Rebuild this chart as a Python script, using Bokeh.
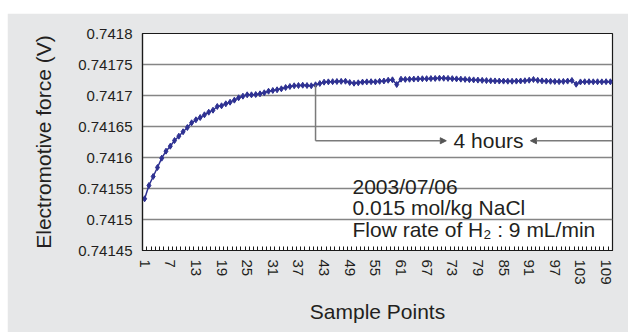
from bokeh.plotting import figure
from bokeh.models import FixedTicker, Label, Arrow, NormalHead, Range1d, Spacer
from bokeh.layouts import column, row
from bokeh.embed import file_html
from bokeh.resources import INLINE

# ---------------- data ----------------
sample_index = list(range(1, 111))
emf_values = [
    0.7415334, 0.7415548, 0.7415694, 0.7415839, 0.7415989, 0.7416102, 0.7416182, 0.7416274, 0.7416344, 0.7416415,
    0.7416484, 0.7416560, 0.7416608, 0.7416645, 0.7416689, 0.7416731, 0.7416763, 0.7416823, 0.7416834, 0.7416866,
    0.7416892, 0.7416925, 0.7416963, 0.7416989, 0.7417011, 0.7417011, 0.7417016, 0.7417027, 0.7417044, 0.7417069,
    0.7417081, 0.7417092, 0.7417108, 0.7417129, 0.7417145, 0.7417157, 0.7417161, 0.7417166, 0.7417161, 0.7417157,
    0.7417173, 0.7417194, 0.7417215, 0.7417220, 0.7417223, 0.7417226, 0.7417228, 0.7417230, 0.7417210, 0.7417198,
    0.7417205, 0.7417216, 0.7417220, 0.7417223, 0.7417220, 0.7417229, 0.7417234, 0.7417246, 0.7417253, 0.7417177,
    0.7417263, 0.7417260, 0.7417262, 0.7417265, 0.7417268, 0.7417270, 0.7417271, 0.7417273, 0.7417275, 0.7417279,
    0.7417278, 0.7417276, 0.7417272, 0.7417268, 0.7417264, 0.7417260, 0.7417256, 0.7417252, 0.7417248, 0.7417244,
    0.7417240, 0.7417237, 0.7417235, 0.7417233, 0.7417232, 0.7417231, 0.7417230, 0.7417232, 0.7417234, 0.7417238,
    0.7417246, 0.7417258, 0.7417244, 0.7417236, 0.7417232, 0.7417229, 0.7417226, 0.7417224, 0.7417227, 0.7417232,
    0.7417242, 0.7417182, 0.7417219, 0.7417222, 0.7417223, 0.7417221, 0.7417222, 0.7417220, 0.7417223, 0.7417221,
]
x_tick_positions = [1, 7, 13, 19, 25, 31, 37, 43, 49, 55, 61, 67, 73, 79, 85, 91, 97, 103, 109]
x_tick_labels = ["1", "7", "13", "19", "25", "31", "37", "43", "49", "55", "61", "67", "73", "79", "85",
                 "91", "97", "103", "109"]
y_tick_values = [0.74145, 0.7415, 0.74155, 0.7416, 0.74165, 0.7417, 0.74175, 0.7418]
y_tick_labels = ["0.74145", "0.7415", "0.74155", "0.7416", "0.74165", "0.7417", "0.74175", "0.7418"]
x_title = "Sample Points"
y_title = "Electromotive force (V)"
hours_text = "4 hours"
info_lines = ["2003/07/06", "0.015 mol/kg NaCl", "Flow rate of H\u2082 : 9 mL/min"]
marker_sample = 41  # sample where the "4 hours" span starts

# ---------------- annotation layout (data units) ----------------
HOURS_Y = 0.741627
HOURS_LEFT_HEAD = 71.6
HOURS_RIGHT_HEAD = 91.3
HOURS_TEXT_X = 81.5
INFO_X = 49.65
INFO_Y = [0.7415532, 0.7415198, 0.7414839]

FONT = "Liberation Sans"
TXT = "#231f20"
BG = "#e6e7e8"
GRID = "#858585"
BLUE = "#2e3192"

cat_bounds = [i - 0.5 for i in sample_index] + [sample_index[-1] + 0.5]

p = figure(
    frame_width=470, frame_height=217,
    x_range=Range1d(0.5, 110.5), y_range=Range1d(y_tick_values[0], y_tick_values[-1]),
    output_backend="svg", toolbar_location=None,
    min_border_left=135, min_border_right=16, min_border_top=20, min_border_bottom=82,
)
p.border_fill_color = BG
p.background_fill_color = "white"
p.outline_line_color = "#1a1a1a"
p.outline_line_width = 1.2

p.xgrid.visible = False
p.ygrid.ticker = FixedTicker(ticks=y_tick_values)
p.ygrid.grid_line_color = GRID
p.ygrid.grid_line_width = 1.6

# y axis
ya = p.yaxis[0]
ya.ticker = FixedTicker(ticks=y_tick_values)
ya.major_label_overrides = {v: s for v, s in zip(y_tick_values, y_tick_labels)}
ya.major_tick_in = 0
ya.major_tick_out = 0
ya.minor_tick_in = 0
ya.minor_tick_out = 0
ya.major_label_standoff = 10
ya.major_label_text_font = FONT
ya.major_label_text_font_size = "15px"
ya.major_label_text_color = TXT
ya.axis_line_color = "#1a1a1a"
ya.axis_line_width = 1.2
ya.axis_label = y_title
ya.axis_label_text_font = FONT
ya.axis_label_text_font_size = "21px"
ya.axis_label_text_font_style = "normal"
ya.axis_label_text_color = TXT
ya.axis_label_standoff = 20

# x axis
xa = p.xaxis[0]
xa.ticker = FixedTicker(ticks=x_tick_positions, minor_ticks=cat_bounds)
xa.major_label_overrides = {v: s for v, s in zip(x_tick_positions, x_tick_labels)}
xa.major_label_orientation = "vertical"
xa.major_tick_in = 0
xa.major_tick_out = 0
xa.minor_tick_in = 4
xa.minor_tick_out = 0
xa.minor_tick_line_color = "#1a1a1a"
xa.major_label_standoff = 9
xa.major_label_text_font = FONT
xa.major_label_text_font_size = "15px"
xa.major_label_text_color = TXT
xa.axis_line_color = "#1a1a1a"
xa.axis_line_width = 1.2
xa.axis_label = x_title
xa.axis_label_text_font = FONT
xa.axis_label_text_font_size = "21px"
xa.axis_label_text_font_style = "normal"
xa.axis_label_text_color = TXT
xa.axis_label_standoff = 12

# series
p.line(sample_index, emf_values, line_color=BLUE, line_width=1.5)
p.scatter(sample_index, emf_values, marker="diamond", size=6, fill_color=BLUE, line_color=BLUE)

# "4 hours" annotation
start_val = emf_values[sample_index.index(marker_sample)]
p.segment(x0=[marker_sample], y0=[start_val], x1=[marker_sample], y1=[HOURS_Y],
          line_color="#7a7a7a", line_width=1.5)
p.add_layout(Arrow(end=NormalHead(size=6, fill_color="#555555", line_color="#555555"),
                   x_start=marker_sample, y_start=HOURS_Y, x_end=HOURS_LEFT_HEAD, y_end=HOURS_Y,
                   line_color="#7a7a7a", line_width=1.5))
p.add_layout(Arrow(end=NormalHead(size=6, fill_color="#555555", line_color="#555555"),
                   x_start=110.5, y_start=HOURS_Y, x_end=HOURS_RIGHT_HEAD, y_end=HOURS_Y,
                   line_color="#7a7a7a", line_width=1.5))
p.add_layout(Label(x=HOURS_TEXT_X, y=HOURS_Y, text=hours_text, text_align="center",
                   text_baseline="middle", text_font=FONT, text_font_size="21px", text_color=TXT))

# info text block: white boxes first, then the texts on top
for txt, yy in zip(info_lines, INFO_Y):
    p.add_layout(Label(x=INFO_X, y=yy, text=txt, text_align="left", text_baseline="alphabetic",
                       text_font=FONT, text_font_size="21px", text_alpha=0.0,
                       background_fill_color="white", padding=4))
for txt, yy in zip(info_lines, INFO_Y):
    p.add_layout(Label(x=INFO_X, y=yy, text=txt, text_align="left", text_baseline="alphabetic",
                       text_font=FONT, text_font_size="21px", text_color=TXT))

layout = row(Spacer(width=7), column(Spacer(height=13), p))
open("out.html", "w").write(file_html(layout, INLINE))
